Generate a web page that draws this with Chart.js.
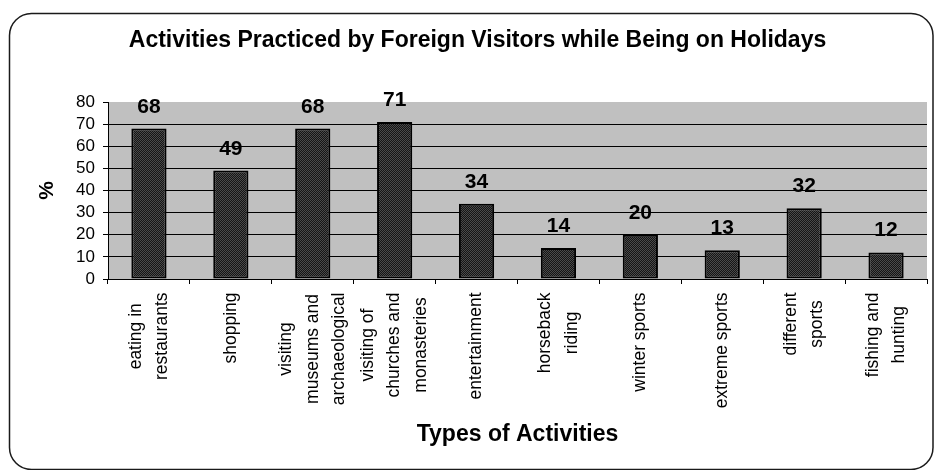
<!DOCTYPE html>
<html>
<head>
<meta charset="utf-8">
<script src="https://cdn.jsdelivr.net/npm/chart.js@4/dist/chart.umd.min.js"></script>
<style>
  html, body { margin: 0; padding: 0; background: #fff; }
  canvas { display: block; }
</style>
</head>
<body>
<canvas id="chart" width="935" height="470"></canvas>
<script>
const categories = [
  ["eating in", "restaurants"],
  ["shopping"],
  ["visiting", "museums and", "archaeological"],
  ["visiting of", "churches and", "monasteries"],
  ["entertainment"],
  ["horseback", "riding"],
  ["winter sports"],
  ["extreme sports"],
  ["different", "sports"],
  ["fishing and", "hunting"],
];
const values = [68, 49, 68, 71, 34, 14, 20, 13, 32, 12];
const yMin = 0, yMax = 80, yStep = 10;

const FONT = "'Liberation Sans', Arial, sans-serif";

// dark stippled fill like the original bars
function barPattern() {
  const p = document.createElement("canvas");
  p.width = 2; p.height = 2;
  const c = p.getContext("2d");
  c.fillStyle = "#151515"; c.fillRect(0, 0, 2, 2);
  c.fillStyle = "#4a4a4a"; c.fillRect(0, 0, 1, 1); c.fillRect(1, 1, 1, 1);
  return document.getElementById("chart").getContext("2d").createPattern(p, "repeat");
}

const frame = {
  id: "frame",
  beforeDraw(chart) {
    const { ctx, chartArea: a } = chart;
    ctx.save();
    ctx.fillStyle = "#fff";
    ctx.fillRect(0, 0, chart.width, chart.height);
    ctx.beginPath();
    ctx.roundRect(9.5, 13.5, 923.5, 456, 22);
    ctx.lineWidth = 1.5;
    ctx.strokeStyle = "#1a1a1a";
    ctx.stroke();
    ctx.fillStyle = "#c0c0c0";
    ctx.fillRect(a.left, a.top, a.right - a.left, a.bottom - a.top);
    ctx.restore();
  },
};

const valueLabels = {
  id: "valueLabels",
  afterDatasetsDraw(chart) {
    const { ctx } = chart;
    const meta = chart.getDatasetMeta(0);
    ctx.save();
    ctx.font = "bold 21px " + FONT;
    ctx.fillStyle = "#000";
    ctx.textAlign = "center";
    ctx.textBaseline = "alphabetic";
    meta.data.forEach((bar, i) => {
      ctx.fillText(String(values[i]), bar.x, bar.y - 16);
    });
    ctx.restore();
  },
};

// rotated, centred multi-line category labels (Excel style)
const catLabels = {
  id: "catLabels",
  afterDraw(chart) {
    const { ctx } = chart;
    const x = chart.scales.x;
    const top = x.top + 13.5;
    const lineGap = 26.5;
    ctx.save();
    ctx.font = "17.5px " + FONT;
    ctx.fillStyle = "#000";
    ctx.textAlign = "center";
    ctx.textBaseline = "middle";
    categories.forEach((lines, i) => {
      const cx = x.getPixelForValue(i);
      const maxW = Math.max(...lines.map((l) => ctx.measureText(l).width));
      lines.forEach((line, j) => {
        const lx = cx + (j - (lines.length - 1) / 2) * lineGap;
        ctx.save();
        ctx.translate(lx, top + maxW / 2);
        ctx.rotate(-Math.PI / 2);
        ctx.fillText(line, 0, 0);
        ctx.restore();
      });
    });
    ctx.restore();
  },
};

new Chart(document.getElementById("chart"), {
  type: "bar",
  data: {
    labels: categories.map((c) => c.join(" ")),
    datasets: [{
      data: values,
      backgroundColor: barPattern(),
      borderColor: "#000",
      borderWidth: 2,
      borderSkipped: false,
      categoryPercentage: 1,
      barPercentage: 0.43,
    }],
  },
  options: {
    responsive: false,
    animation: false,
    layout: { padding: { left: 28, right: 8, top: 0, bottom: 0 } },
    plugins: {
      legend: { display: false },
      tooltip: { enabled: false },
      title: {
        display: true,
        text: "Activities Practiced by Foreign Visitors while Being on Holidays",
        color: "#000",
        font: { family: FONT, size: 23, weight: "bold" },
        padding: { top: 26.5, bottom: 47.9 },
      },
    },
    scales: {
      x: {
        afterFit: (s) => { s.height = 191; },
        grid: { drawOnChartArea: false, drawTicks: true, tickLength: 5, color: "#000", offset: true },
        border: { color: "#000", width: 1 },
        ticks: { display: false },
        title: {
          display: true,
          text: "Types of Activities",
          color: "#000",
          font: { family: FONT, size: 23, weight: "bold" },
          padding: { top: 0, bottom: 21.2 },
        },
      },
      y: {
        min: yMin,
        max: yMax,
        afterFit: (s) => { s.width = 80; },
        grid: {
          color: (c) => (c.tick && c.tick.value === yMax ? "rgba(0,0,0,0)" : "#000"),
          tickColor: "#000",
          tickLength: 5,
          lineWidth: 1,
        },
        border: { color: "#000", width: 1 },
        ticks: {
          stepSize: yStep,
          autoSkip: false,
          color: "#000",
          padding: 8,
          font: { family: FONT, size: 17 },
        },
        title: {
          display: true,
          text: "%",
          color: "#000",
          font: { family: FONT, size: 21, weight: "bold" },
          padding: { top: 6.5, bottom: 0 },
        },
      },
    },
  },
  plugins: [frame, valueLabels, catLabels],
});
</script>
</body>
</html>
